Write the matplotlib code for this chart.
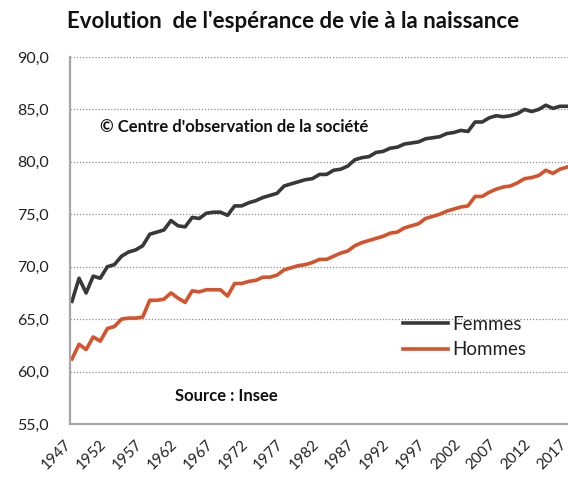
import numpy as np
import matplotlib
matplotlib.use("Agg")
import matplotlib.pyplot as plt
from matplotlib.ticker import FuncFormatter

plt.rcParams["font.family"] = ["Lato", "DejaVu Sans"]

YEARS = np.arange(1947, 2018)
FEMMES = [66.7, 68.9, 67.5, 69.1, 68.9, 70.0, 70.2, 71.0, 71.4, 71.6,
          72.0, 73.1, 73.3, 73.5, 74.4, 73.9, 73.8, 74.7, 74.6, 75.1,
          75.2, 75.2, 74.9, 75.8, 75.8, 76.1, 76.3, 76.6, 76.8, 77.0,
          77.7, 77.9, 78.1, 78.3, 78.4, 78.8, 78.8, 79.2, 79.3, 79.6,
          80.2, 80.4, 80.5, 80.9, 81.0, 81.3, 81.4, 81.7, 81.8, 81.9,
          82.2, 82.3, 82.4, 82.7, 82.8, 83.0, 82.9, 83.8, 83.8, 84.2,
          84.4, 84.3, 84.4, 84.6, 85.0, 84.8, 85.0, 85.4, 85.1, 85.3,
          85.3]
HOMMES = [61.2, 62.6, 62.1, 63.3, 62.9, 64.1, 64.3, 65.0, 65.1, 65.1,
          65.2, 66.8, 66.8, 66.9, 67.5, 67.0, 66.6, 67.7, 67.6, 67.8,
          67.8, 67.8, 67.2, 68.4, 68.4, 68.6, 68.7, 69.0, 69.0, 69.2,
          69.7, 69.9, 70.1, 70.2, 70.4, 70.7, 70.7, 71.0, 71.3, 71.5,
          72.0, 72.3, 72.5, 72.7, 72.9, 73.2, 73.3, 73.7, 73.9, 74.1,
          74.6, 74.8, 75.0, 75.3, 75.5, 75.7, 75.8, 76.7, 76.7, 77.1,
          77.4, 77.6, 77.7, 78.0, 78.4, 78.5, 78.7, 79.2, 78.9, 79.3,
          79.5]
XTICKS = list(range(1947, 2018, 5))
YTICKS = [55, 60, 65, 70, 75, 80, 85, 90]

fig = plt.figure(figsize=(5.68, 4.86), dpi=100)
ax = fig.add_axes([70 / 568, 1 - 424 / 486, 498 / 568, 367 / 486])

ax.plot(YEARS, FEMMES, color="#383838", linewidth=2.6, label="Femmes",
        solid_joinstyle="round")
ax.plot(YEARS, HOMMES, color="#d6522b", linewidth=2.6, label="Hommes",
        solid_joinstyle="round")

ax.set_xlim(1946.72, 2017.14)
ax.set_ylim(55, 90)
ax.set_xticks(XTICKS)
ax.set_yticks(YTICKS)
ax.yaxis.set_major_formatter(FuncFormatter(lambda v, _: f"{v:.1f}".replace(".", ",")))
ax.tick_params(axis="y", length=0, pad=15, labelsize=11.5, labelcolor="#222222")
ax.tick_params(axis="x", length=0, pad=15, labelsize=11, labelcolor="#222222")
for lbl in ax.get_xticklabels():
    lbl.set_rotation(45)
    lbl.set_ha("right")
    lbl.set_va("baseline")
    lbl.set_rotation_mode("anchor")

ax.grid(axis="y", linestyle=(0, (1, 1.5)), color="#8a8a8a", linewidth=0.9)
ax.set_axisbelow(True)
for side in ["top", "right"]:
    ax.spines[side].set_visible(False)
for side in ["left", "bottom"]:
    ax.spines[side].set_color("#a6a6a6")
    ax.spines[side].set_linewidth(1.6)

fig.text(293 / 568, 1 - 22 / 486, "Evolution  de l'espérance de vie à la naissance",
         ha="center", va="center", fontsize=16, fontweight="bold", color="#111111")
fig.text(100 / 568, 1 - 127 / 486, "© Centre d'observation de la société",
         ha="left", va="center", fontsize=12, fontweight="bold", color="#111111")
fig.text(175 / 568, 1 - 396 / 486, "Source : Insee",
         ha="left", va="center", fontsize=12, fontweight="bold", color="#111111")

ax.legend(loc="upper left", bbox_to_anchor=(403 / 568, 1 - 316 / 486),
          bbox_transform=fig.transFigure, frameon=False, fontsize=13.5,
          handlelength=2.4, handletextpad=0.25, labelspacing=0.45,
          borderaxespad=0, borderpad=0, labelcolor="#222222")

fig.savefig("out.png", dpi=100)
